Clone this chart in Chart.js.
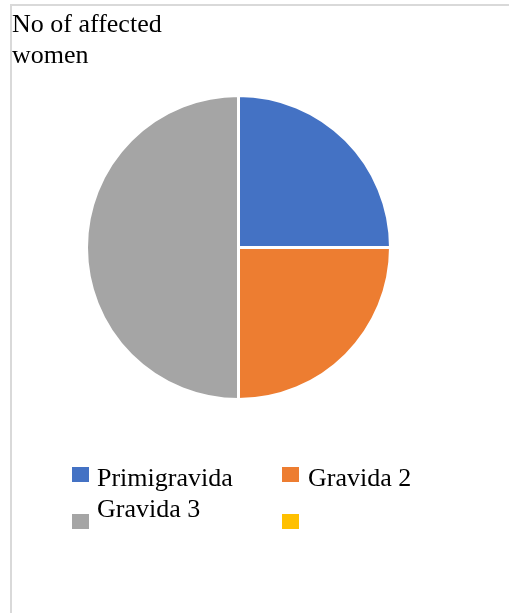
<!DOCTYPE html>
<html>
<head>
<meta charset="utf-8">
<script src="https://cdn.jsdelivr.net/npm/chart.js@4"></script>
<style>
  html, body { margin: 0; padding: 0; background: #fff; }
  #wrap { position: relative; width: 509px; height: 613px; overflow: hidden; }
  #frame { position: absolute; left: 10px; top: 4px; width: 520px; height: 640px;
           border-top: 2px solid #d9d9d9; border-left: 2px solid #d9d9d9; }
  canvas { position: absolute; left: 0; top: 0; }
  .txt { position: absolute; font-family: "Liberation Serif", "Times New Roman", serif;
         font-size: 26px; color: #000; white-space: nowrap; }
  #title { left: 12px; top: 8px; line-height: 31px; }
  .box { position: absolute; width: 17px; height: 15px; }
  .lab { line-height: 26px; }
</style>
</head>
<body>
<div id="wrap">
  <div id="frame"></div>
  <canvas id="c" width="509" height="613"></canvas>
  <div id="title" class="txt"></div>
  <div id="legend"></div>
</div>
<script>
const titleLines = ["No of affected", "women"];
const categories = ["Primigravida", "Gravida 2", "Gravida 3", ""];
const values = [25, 25, 50, 0];
const colors = ["#4472C4", "#ED7D31", "#A5A5A5", "#FFC000"];

document.getElementById('title').innerHTML = titleLines.join('<br>');

// legend layout (positions only)
const legendPos = [
  { bx: 72, by: 467, tx: 97, ty: 465 },
  { bx: 282, by: 467, tx: 308, ty: 465 },
  { bx: 72, by: 514, tx: 97, ty: 496 },
  { bx: 282, by: 514, tx: 308, ty: 496 }
];
const lg = document.getElementById('legend');
categories.forEach((c, i) => {
  const p = legendPos[i];
  const b = document.createElement('div');
  b.className = 'box';
  b.style.left = p.bx + 'px'; b.style.top = p.by + 'px';
  b.style.background = colors[i];
  lg.appendChild(b);
  if (c) {
    const t = document.createElement('div');
    t.className = 'txt lab';
    t.style.left = p.tx + 'px'; t.style.top = p.ty + 'px';
    t.textContent = c;
    lg.appendChild(t);
  }
});

new Chart(document.getElementById('c'), {
  type: 'pie',
  data: {
    labels: categories,
    datasets: [{
      data: values,
      backgroundColor: colors,
      borderColor: '#ffffff',
      borderWidth: 3
    }]
  },
  options: {
    responsive: false,
    animation: false,
    layout: { padding: { left: 85, top: 94, right: 117, bottom: 212 } },
    plugins: { legend: { display: false }, tooltip: { enabled: false }, title: { display: false } }
  }
});
</script>
</body>
</html>
